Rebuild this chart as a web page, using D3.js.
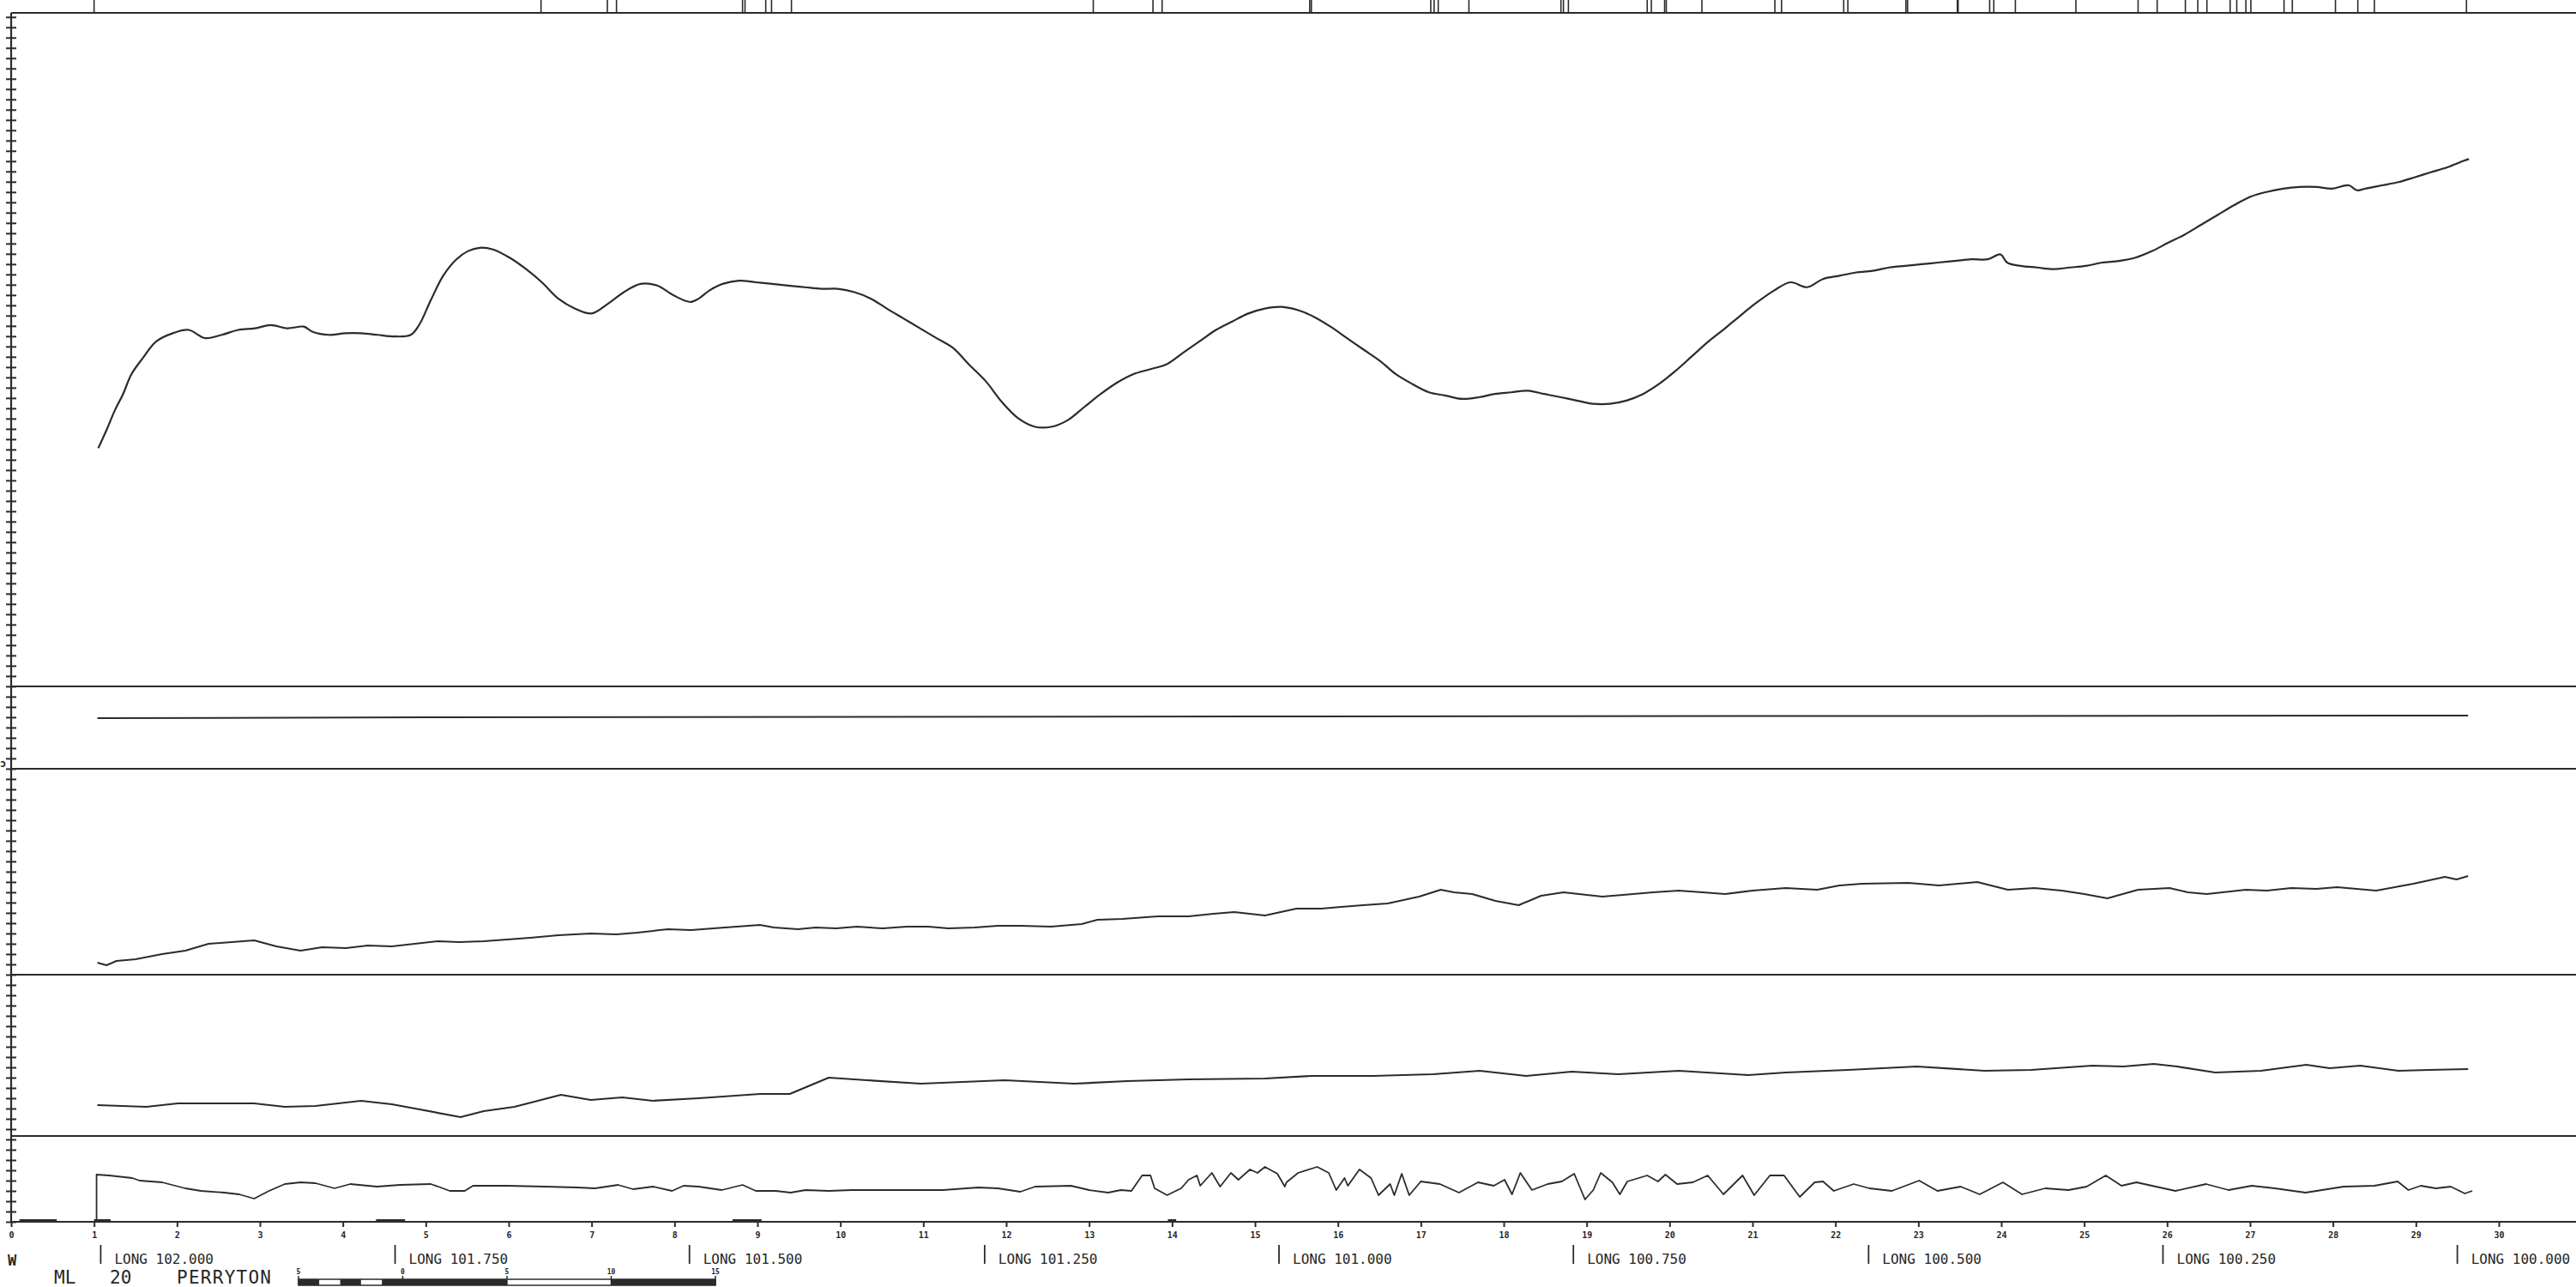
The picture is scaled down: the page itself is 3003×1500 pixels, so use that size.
<!DOCTYPE html>
<html>
<head>
<meta charset="utf-8">
<script src="https://cdn.jsdelivr.net/npm/d3@7"></script>
<style>
  body { margin: 0; background: #fff; }
  svg { display: block; }
  .lbl { font-family: "DejaVu Sans Mono", monospace; fill: #262626; }
</style>
</head>
<body>
<div id="chart"></div>
<script>
// ---- data (distance in km along line, value in panel units) ----

// total field (top panel)
const totalField = [
  [1.05,145],[1.15,156],[1.25,168],[1.35,178],[1.45,190],[1.59,200],[1.75,210],[1.95,215],[2.14,217],[2.34,212],
  [2.54,214],[2.74,217],[2.94,218],[3.13,220],[3.33,218],[3.53,219],[3.63,216],[3.83,214],[4.03,215],[4.22,215],
  [4.42,214],[4.62,213],[4.82,214],[4.92,220],[5.06,235],[5.21,250],[5.37,260],[5.51,265],[5.65,267],[5.81,266],
  [6.01,261],[6.21,254],[6.40,246],[6.60,236],[6.80,230],[7.00,227],[7.20,233],[7.39,240],[7.59,245],[7.79,244],
  [7.99,238],[8.19,234],[8.29,236],[8.42,241],[8.58,245],[8.78,247],[8.98,246],[9.18,245],[9.37,244],[9.57,243],
  [9.77,242],[9.97,242],[10.17,240],[10.37,236],[10.56,230],[10.76,224],[10.96,218],[11.16,212],[11.36,206],[11.55,196],
  [11.75,186],[11.95,173],[12.15,163],[12.35,158],[12.54,158],[12.74,162],[12.94,170],[13.14,178],[13.34,185],[13.53,190],
  [13.73,193],[13.93,196],[14.13,203],[14.33,210],[14.53,217],[14.72,222],[14.92,227],[15.12,230],[15.32,231],[15.52,229],
  [15.71,225],[15.91,219],[16.11,212],[16.31,205],[16.51,198],[16.70,190],[16.90,184],[17.10,179],[17.30,177],[17.50,175],
  [17.70,176],[17.89,178],[18.09,179],[18.29,180],[18.49,178],[18.69,176],[18.88,174],[19.08,172],[19.28,172],[19.48,174],
  [19.68,178],[19.87,184],[20.07,192],[20.27,201],[20.47,210],[20.67,218],[20.86,226],[21.06,234],[21.26,241],[21.46,246],
  [21.66,243],[21.85,248],[22.05,250],[22.25,252],[22.45,253],[22.65,255],[22.84,256],[23.04,257],[23.24,258],[23.44,259],
  [23.64,260],[23.84,260],[23.99,263],[24.07,258],[24.23,256],[24.43,255],[24.63,254],[24.83,255],[25.02,256],[25.22,258],
  [25.42,259],[25.62,261],[25.82,265],[26.01,270],[26.21,275],[26.41,281],[26.61,287],[26.81,293],[27.00,298],[27.20,301],
  [27.40,303],[27.60,304],[27.80,304],[27.99,303],[28.19,305],[28.29,302],[28.39,303],[28.59,305],[28.79,307],[28.99,310],
  [29.18,313],[29.38,316],[29.58,320],[29.64,321]
];

// second channel (flat trace)
const channelTwo = [[1.04,59],[5.0,60],[15.0,61],[29.63,62]];

// third channel
const channelThree = [
  [1.04,14],[1.15,11],[1.27,16],[1.5,18],[1.82,24],[2.1,28],[2.38,36],[2.93,40],[3.2,33],[3.49,28],[3.75,32],[4.04,31],
  [4.3,34],[4.59,33],[5.15,39],[5.4,38],[5.70,39],[6.26,43],[6.6,46],[6.99,48],[7.3,47],[7.55,49],[7.92,53],[8.2,52],
  [8.47,54],[9.03,58],[9.2,55],[9.49,53],[9.7,55],[9.95,54],[10.2,56],[10.51,54],[10.8,56],[11.06,56],[11.3,54],[11.62,55],
  [11.9,57],[12.17,57],[12.54,56],[12.91,59],[13.10,64],[13.4,65],[13.83,68],[14.20,68],[14.5,71],[14.75,73],[15.12,69],
  [15.50,77],[15.8,77],[16.04,79],[16.3,81],[16.60,83],[16.98,91],[17.24,99],[17.4,96],[17.62,94],[17.9,86],[18.18,81],
  [18.45,92],[18.72,96],[19.0,93],[19.19,91],[19.56,94],[19.8,96],[20.11,98],[20.4,96],[20.67,94],[21.0,98],[21.40,101],
  [21.78,99],[22.05,104],[22.32,106],[22.88,107],[23.25,104],[23.71,108],[24.08,99],[24.4,101],[24.73,98],[25.0,94],
  [25.28,89],[25.65,99],[26.03,101],[26.25,96],[26.48,94],[26.95,99],[27.2,98],[27.50,101],[27.8,100],[28.05,102],
  [28.52,98],[28.8,103],[28.97,106],[29.35,114],[29.49,111],[29.63,115]
];

// fourth channel
const channelFour = [
  [1.04,36],[1.63,34],[2.01,38],[2.93,38],[3.30,34],[3.67,35],[4.22,41],[4.59,37],[4.87,32],[5.42,22],[5.70,29],[6.07,34],
  [6.63,48],[6.99,42],[7.37,45],[7.74,41],[8.29,44],[9.03,49],[9.39,49],[9.86,68],[10.32,65],[10.97,61],[11.98,65],
  [12.82,61],[13.46,64],[14.20,66],[15.12,67],[15.68,70],[16.42,70],[17.15,72],[17.71,76],[18.27,70],[18.82,75],
  [19.38,72],[20.11,76],[20.95,71],[21.40,74],[22.15,77],[22.98,81],[23.80,76],[24.36,77],[25.10,82],[25.47,81],
  [25.84,84],[26.12,81],[26.58,74],[27.13,76],[27.68,83],[27.96,79],[28.33,82],[28.79,76],[29.16,77],[29.63,78]
];

// fifth channel (high frequency)
const channelFive = [
  [1.03,0],[1.03,55],[1.18,54],[1.46,51],[1.55,48],[1.82,46],[2.10,39],[2.29,36],[2.57,34],[2.75,32],[2.93,27],[3.11,36],
  [3.30,44],[3.49,46],[3.67,45],[3.90,39],[4.09,44],[4.41,41],[4.69,43],[5.06,44],[5.15,41],[5.29,36],[5.47,36],[5.57,42],
  [5.98,42],[6.44,41],[6.82,40],[7.04,39],[7.32,43],[7.50,38],[7.74,41],[7.97,36],[8.11,42],[8.29,41],[8.57,37],[8.82,43],
  [8.98,36],[9.22,36],[9.40,34],[9.58,37],[9.86,36],[10.14,37],[10.51,37],[10.87,37],[11.24,37],[11.66,40],[11.90,39],
  [12.17,35],[12.35,41],[12.78,42],[13.00,37],[13.23,34],[13.38,37],[13.51,36],[13.64,54],[13.74,54],[13.79,39],[13.94,31],
  [14.11,39],[14.20,49],[14.30,54],[14.34,42],[14.48,57],[14.58,41],[14.71,57],[14.80,49],[14.94,61],[15.03,57],[15.12,64],
  [15.27,56],[15.36,41],[15.38,46],[15.52,57],[15.75,64],[15.89,57],[15.98,37],[16.08,51],[16.12,42],[16.26,61],[16.40,51],
  [16.49,31],[16.63,44],[16.68,31],[16.77,56],[16.86,31],[17.00,47],[17.23,44],[17.46,34],[17.69,46],[17.88,42],[18.01,49],
  [18.10,32],[18.20,57],[18.34,37],[18.53,44],[18.70,47],[18.85,56],[18.98,26],[19.08,37],[19.17,57],[19.31,46],[19.40,32],
  [19.49,47],[19.73,54],[19.86,47],[19.95,55],[20.09,44],[20.28,46],[20.46,54],[20.65,32],[20.88,54],[21.02,31],[21.21,54],
  [21.38,54],[21.57,29],[21.75,46],[21.85,47],[21.98,36],[22.22,44],[22.41,39],[22.68,36],[23.01,48],[23.23,36],[23.51,41],
  [23.74,32],[24.02,46],[24.25,32],[24.53,39],[24.81,37],[25.03,41],[25.26,54],[25.45,42],[25.63,46],[26.10,36],[26.47,44],
  [26.74,37],[27.02,42],[27.30,39],[27.67,34],[28.13,41],[28.50,42],[28.78,47],[28.91,37],[29.06,42],[29.24,39],[29.42,41],
  [29.59,33],[29.68,36]
];

// fiducial marks along the top edge (km)
const fiducials = [
  1.00, 6.39, 7.19, 7.30, 8.82, 8.85, 9.10, 9.17, 9.41, 13.05, 13.77, 13.88, 15.66, 15.68, 17.12, 17.16, 17.21, 17.58,
  18.69, 18.72, 18.78, 19.73, 19.78, 19.94, 19.96, 20.39, 21.27, 21.35, 22.10, 22.15, 22.85, 22.87, 23.47, 23.48, 23.86,
  23.91, 24.17, 24.90, 25.65, 25.88, 26.22, 26.37, 26.48, 26.76, 26.84, 26.95, 27.01, 27.41, 27.51, 28.03, 28.30, 28.50, 29.61
];

// heavy stretches on the base line (km)
const baseMarks = [[0.1, 0.55], [1.0, 1.2], [4.4, 4.75], [8.7, 9.05], [13.95, 14.05]];

// distance ticks
const kmTicks = [0,1,2,3,4,5,6,7,8,9,10,11,12,13,14,15,16,17,18,19,20,21,22,23,24,25,26,27,28,29,30];

// longitude markers
const longKm = [1.08, 4.63, 8.18, 11.74, 15.29, 18.84, 22.40, 25.95, 29.50];
const longLabels = ["LONG 102.000", "LONG 101.750", "LONG 101.500", "LONG 101.250", "LONG 101.000",
                    "LONG 100.750", "LONG 100.500", "LONG 100.250", "LONG 100.000"];

// scale bar (km)
const scaleBarTicks = [-5, 0, 5, 10, 15];
const scaleBarLabels = ["5", "0", "5", "10", "15"];


class ProfileVis {

    constructor(parentElement) {
        this.parentElement = parentElement;
        this.initVis();
    }

    initVis() {
        let vis = this;

        vis.width = 3003;
        vis.height = 1500;
        vis.ink = "#2b2b2b";

        vis.svg = d3.select("#" + vis.parentElement).append("svg")
            .attr("width", vis.width)
            .attr("height", vis.height);

        // distance along flight line
        vis.x = d3.scaleLinear().domain([0, 30]).range([13, 2913]);

        // panel bands, top to bottom
        vis.panels = [
            {data: totalField,   top: 15,   bottom: 800,  max: 410, curve: d3.curveCatmullRom, w: 2.2},
            {data: channelTwo,   top: 800,  bottom: 896,  max: 96,  curve: d3.curveLinear, w: 2},
            {data: channelThree, top: 896,  bottom: 1136, max: 240, curve: d3.curveLinear, w: 2},
            {data: channelFour,  top: 1136, bottom: 1324, max: 188, curve: d3.curveLinear, w: 2.2},
            {data: channelFive,  top: 1324, bottom: 1424, max: 100, curve: d3.curveLinear, w: 1.8}
        ];

        vis.drawFrame();
        vis.drawCurves();
        vis.drawLabels();
    }

    drawFrame() {
        let vis = this;

        // panel boundaries
        let edges = [15, 800, 896, 1136, 1324, 1424];
        vis.svg.selectAll(".edge").data(edges).enter().append("line")
            .attr("x1", 13).attr("x2", vis.width)
            .attr("y1", d => d).attr("y2", d => d)
            .attr("stroke", vis.ink).attr("stroke-width", 2.2);

        // fiducials above the top edge
        vis.svg.selectAll(".fid").data(fiducials).enter().append("line")
            .attr("x1", d => vis.x(d)).attr("x2", d => vis.x(d))
            .attr("y1", 0).attr("y2", 15)
            .attr("stroke", vis.ink).attr("stroke-width", 1.6);

        // heavy bits on base line
        vis.svg.selectAll(".bm").data(baseMarks).enter().append("line")
            .attr("x1", d => vis.x(d[0])).attr("x2", d => vis.x(d[1]))
            .attr("y1", 1423).attr("y2", 1423)
            .attr("stroke", vis.ink).attr("stroke-width", 4);

        // left scale with cross ticks
        vis.yTick = d3.scaleLinear().domain([0, 117.4]).range([1424, 15]);
        vis.svg.append("line")
            .attr("x1", 13).attr("x2", 13).attr("y1", 15).attr("y2", 1424)
            .attr("stroke", vis.ink).attr("stroke-width", 2.2);
        let leftAxis = d3.axisLeft(vis.yTick).tickValues(d3.range(0, 118)).tickSize(12).tickFormat("");
        let ga = vis.svg.append("g").attr("transform", "translate(19,0)").call(leftAxis);
        ga.select(".domain").remove();
        ga.selectAll("line").attr("stroke", vis.ink).attr("stroke-width", 2);

        // distance axis
        let bottomAxis = d3.axisBottom(vis.x).tickValues(kmTicks).tickSize(7).tickPadding(6);
        let gb = vis.svg.append("g").attr("transform", "translate(0,1423)").call(bottomAxis);
        gb.select(".domain").remove();
        gb.selectAll("line").attr("stroke", vis.ink).attr("stroke-width", 2);
        gb.selectAll("text")
            .attr("class", "lbl")
            .style("font-size", "10px").style("font-weight", "bold");
    }

    drawCurves() {
        let vis = this;

        vis.panels.forEach(p => {
            let y = d3.scaleLinear().domain([0, p.max]).range([p.bottom, p.top]);
            let line = d3.line()
                .x(d => vis.x(d[0]))
                .y(d => y(d[1]))
                .curve(p.curve);
            vis.svg.append("path")
                .datum(p.data)
                .attr("d", line)
                .attr("fill", "none")
                .attr("stroke", vis.ink)
                .attr("stroke-width", p.w)
                .attr("stroke-linejoin", "round");
        });
    }

    drawLabels() {
        let vis = this;

        // small mark on the left scale
        vis.svg.append("text").attr("class", "lbl")
            .attr("x", 0).attr("y", 894)
            .style("font-size", "12px").style("font-weight", "bold").text("ɔ");

        vis.svg.append("text").attr("class", "lbl")
            .attr("x", 9).attr("y", 1475)
            .style("font-size", "17px").style("font-weight", "bold").text("W");

        // longitude markers
        let lg = vis.svg.selectAll(".lng").data(longKm).enter().append("g");
        lg.append("line")
            .attr("x1", d => vis.x(d)).attr("x2", d => vis.x(d))
            .attr("y1", 1451).attr("y2", 1473)
            .attr("stroke", vis.ink).attr("stroke-width", 1.8);
        lg.append("text").attr("class", "lbl")
            .attr("x", d => vis.x(d) + 16).attr("y", 1473)
            .style("font-size", "16px")
            .text((d, i) => longLabels[i]);

        // line identification
        vis.svg.append("text").attr("class", "lbl")
            .attr("x", 63).attr("y", 1496)
            .style("font-size", "21px").text("ML");
        vis.svg.append("text").attr("class", "lbl")
            .attr("x", 128).attr("y", 1496)
            .style("font-size", "21px").text("20");
        vis.svg.append("text").attr("class", "lbl")
            .attr("x", 206).attr("y", 1496)
            .style("font-size", "21px").attr("textLength", 110).text("PERRYTON");

        // scale bar
        let s = d3.scaleLinear().domain([-5, 15]).range([348, 834]);
        let barY = 1491, barH = 7;
        let segs = [];
        d3.range(-5, 0).forEach(k => segs.push([k, k + 1, k % 2 === 0 ? "#fff" : vis.ink]));
        segs.push([0, 5, vis.ink], [5, 10, "#fff"], [10, 15, vis.ink]);
        vis.svg.selectAll(".seg").data(segs).enter().append("rect")
            .attr("x", d => s(d[0])).attr("width", d => s(d[1]) - s(d[0]))
            .attr("y", barY).attr("height", barH)
            .attr("fill", d => d[2]);
        vis.svg.append("rect")
            .attr("x", s(-5)).attr("width", s(15) - s(-5))
            .attr("y", barY).attr("height", barH)
            .attr("fill", "none").attr("stroke", vis.ink).attr("stroke-width", 1.5);
        vis.svg.selectAll(".sbt").data(scaleBarTicks).enter().append("line")
            .attr("x1", d => s(d)).attr("x2", d => s(d))
            .attr("y1", barY - 4).attr("y2", barY + barH)
            .attr("stroke", vis.ink).attr("stroke-width", 1.5);
        vis.svg.selectAll(".sbl").data(scaleBarTicks).enter().append("text").attr("class", "lbl")
            .attr("x", d => s(d)).attr("y", barY - 6).attr("text-anchor", "middle")
            .style("font-size", "8px").style("font-weight", "bold")
            .text((d, i) => scaleBarLabels[i]);
    }
}

new ProfileVis("chart");
</script>
</body>
</html>
